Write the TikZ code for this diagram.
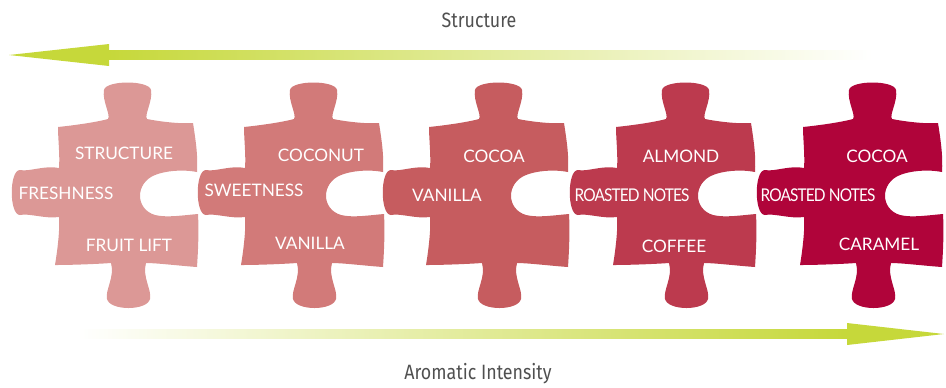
\documentclass[tikz,border=0pt]{standalone}
\usepackage{fontspec}
\usepackage{tikz}

\setmainfont{Lato}
\newfontfamily\axisfont[FakeStretch=0.86]{Fira Sans}
\newfontfamily\tightfont[FakeStretch=0.88,LetterSpace=-5]{Lato}

\definecolor{pieceA}{RGB}{220,152,150}
\definecolor{pieceB}{RGB}{210,122,121}
\definecolor{pieceC}{RGB}{198,92,95}
\definecolor{pieceD}{RGB}{188,58,78}
\definecolor{pieceE}{RGB}{176,4,58}
\definecolor{arrowgreen}{RGB}{198,216,58}
\definecolor{axisgrey}{RGB}{80,80,80}

\tikzset{
  piece/.pic={
    \path[pic actions]
      (1,0) .. controls (20,-2) and (40,-5) .. (51,-8)
      .. controls (54,-12) and (45,-26) .. (47,-37)
      .. controls (49,-47) and (92,-47) .. (94,-37)
      .. controls (96,-26) and (87,-12) .. (90,-8)
      .. controls (105,-5) and (125,-3) .. (136,-4)
      .. controls (139,15) and (141,30) .. (140,45)
      .. controls (125,42) and (108,44) .. (98,48)
      .. controls (78,56) and (78,82) .. (98,88)
      .. controls (110,91) and (128,88) .. (141,87)
      .. controls (142,105) and (141,125) .. (140,140)
      .. controls (125,139) and (100,136) .. (89,136)
      .. controls (85,150) and (95,163) .. (93,172)
      .. controls (90,184) and (53,184) .. (50,172)
      .. controls (48,163) and (58,150) .. (54,136)
      .. controls (40,137) and (15,138) .. (-2,138)
      .. controls (1,120) and (3,100) .. (2,90)
      .. controls (-12,92) and (-28,86) .. (-37,88)
      .. controls (-48,88) and (-48,43) .. (-37,43)
      .. controls (-28,45) and (-12,38) .. (2,41)
      .. controls (3,28) and (1,12) .. (1,0) -- cycle;
  },
  flavour/.style={text=white, font=\fontsize{9.8}{12}\selectfont, inner sep=0pt},
  roasted/.style={flavour, font=\fontsize{10}{12}\tightfont},
  axislabel/.style={text=axisgrey, font=\fontsize{11.8}{14}\axisfont, inner sep=0pt}
}

\begin{document}
\begin{tikzpicture}[x=0.02cm,y=-0.02cm]
  \useasboundingbox (0,0) rectangle (946,387);

  % arrows
  \coordinate (struct-tip)   at (9,55);
  \coordinate (struct-base)  at (109,55);
  \coordinate (struct-end)   at (872,55);
  \coordinate (aroma-start)  at (78,334);
  \coordinate (aroma-base)   at (847,334);
  \coordinate (aroma-tip)    at (944,334);

  \shade[left color=arrowgreen, right color=white]
    ([yshift=0.09cm]struct-base) rectangle ([yshift=-0.09cm]struct-end);
  \fill[arrowgreen] (struct-tip) -- ([yshift=0.22cm]struct-base) -- ([yshift=-0.22cm]struct-base) -- cycle;
  \shade[left color=white, right color=arrowgreen]
    ([yshift=0.09cm]aroma-start) rectangle ([yshift=-0.09cm]aroma-base);
  \fill[arrowgreen] (aroma-tip) -- ([yshift=0.22cm]aroma-base) -- ([yshift=-0.22cm]aroma-base) -- cycle;

  \node[axislabel] (structure) at (479,20)  {Structure};
  \node[axislabel] (aromatic)  at (478,374) {Aromatic Intensity};

  % puzzle pieces
  \pic[fill=pieceA] at (57,127)  {piece};
  \pic[fill=pieceB] at (243,127) {piece};
  \pic[fill=pieceC] at (428,127) {piece};
  \pic[fill=pieceD] at (615,127) {piece};
  \pic[fill=pieceE] at (802,127) {piece};

  \node[flavour] (a-top)    at (124,153) {STRUCTURE};
  \node[flavour] (a-left)   at (66,193)  {FRESHNESS};
  \node[flavour] (a-bottom) at (129,245) {FRUIT LIFT};

  \node[flavour] (b-top)    at (321,155) {COCONUT};
  \node[flavour] (b-left)   at (254,190) {SWEETNESS};
  \node[flavour] (b-bottom) at (310,243) {VANILLA};

  \node[flavour] (c-top)    at (494,156) {COCOA};
  \node[flavour] (c-left)   at (447,195) {VANILLA};

  \node[flavour] (d-top)    at (681,156) {ALMOND};
  \node[roasted] (d-left)   at (632,195) {ROASTED NOTES};
  \node[flavour] (d-bottom) at (674,246) {COFFEE};

  \node[flavour] (e-top)    at (877,156) {COCOA};
  \node[roasted] (e-left)   at (818,195) {ROASTED NOTES};
  \node[flavour] (e-bottom) at (879,244) {CARAMEL};
\end{tikzpicture}
\end{document}
